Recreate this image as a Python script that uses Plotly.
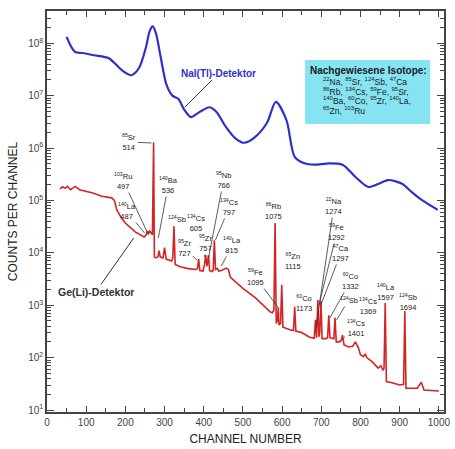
import plotly.graph_objects as go

# ---------------- data ----------------
nai_channel = [50, 62, 72, 90, 120, 157, 172, 195, 215, 235, 252, 262, 270, 278, 290, 305, 320, 335,
               350, 367, 390, 415, 432, 457, 480, 503, 530, 561, 584, 611, 632, 657, 682, 720, 754,
               787, 820, 845, 870, 905, 930, 956, 997]
nai_counts = [1.32e8, 8.5e7, 6.8e7, 6.5e7, 5.9e7, 5.2e7, 4.2e7, 2.9e7, 2.45e7, 3.4e7, 8.1e7, 1.7e8,
              2.1e8, 1.55e8, 5.5e7, 1.6e7, 1.0e7, 8.7e6, 5.4e6, 3.9e6, 4.9e6, 6.0e6, 4.9e6, 2.5e6,
              1.55e6, 1.26e6, 1.6e6, 3.0e6, 7.6e6, 3.4e6, 6.8e5, 5.1e5, 4.8e5, 5.1e5, 4.8e5, 2.8e5,
              1.8e5, 2.05e5, 2.45e5, 2.1e5, 1.45e5, 1.02e5, 6.6e4]

ge_channel = [33, 40, 46, 52, 60, 66, 72, 83, 100, 117, 140, 165, 172, 178, 190, 200, 225, 248, 253,
              256, 259, 262, 266, 269, 272, 274, 278, 283, 286, 289, 296, 300, 304, 318, 321, 324,
              327, 340, 360, 380, 384, 387, 390, 398, 402, 405, 408, 412, 415, 420, 424, 427, 430,
              435, 438, 445, 457, 463, 468, 500, 532, 557, 570, 575, 579, 582, 585, 588, 590, 592,
              596, 599, 602, 620, 629, 632, 635, 650, 670, 682, 685, 688, 691, 694, 696, 699, 702,
              712, 716, 719, 722, 732, 735, 738, 746, 751, 754, 758, 770, 780, 787, 795, 800, 808,
              812, 816, 830, 845, 852, 857, 860, 863, 866, 880, 900, 910, 913, 916, 945, 955, 962,
              1000]
ge_counts = [1.66e5, 1.82e5, 1.7e5, 1.86e5, 1.6e5, 1.75e5, 1.85e5, 1.6e5, 1.5e5, 1.38e5, 1.2e5,
             1.12e5, 1.0e5, 6.6e4, 4.6e4, 3.7e4, 2.5e4, 2.0e4, 2.2e4, 2.6e4, 2.3e4, 2.6e4, 2.4e4,
             2.2e4, 1.29e6, 8.3e3, 8.0e3, 8.5e3, 1.1e4, 8.3e3, 8.0e3, 1.26e4, 7.6e3, 7.0e3, 8.0e3,
             3.2e4, 6.0e3, 5.4e3, 5.0e3, 4.8e3, 5.0e3, 7.6e3, 4.6e3, 4.5e3, 6.0e3, 9.1e3, 5.5e3,
             9.0e3, 4.6e3, 4.4e3, 4.6e3, 1.74e4, 4.8e3, 5.0e3, 4.5e3, 4.6e3, 5.1e3, 4.8e3, 3.4e3,
             2.1e3, 1.38e3, 930, 740, 720, 800, 3.7e4, 450, 520, 890, 420, 450, 2.45e3, 380, 340,
             330, 930, 320, 300, 245, 235, 525, 240, 1.26e3, 250, 300, 1.2e3, 230, 230, 240, 645,
             240, 230, 575, 200, 200, 215, 270, 175, 160, 165, 200, 150, 112, 105, 118, 100, 83,
             63, 70, 58, 62, 1.1e3, 35, 33, 30, 31, 775, 26, 26, 34, 24, 23]

x_tick_vals = [0, 100, 200, 300, 400, 500, 600, 700, 800, 900, 1000]
y_tick_vals = [1e1, 1e2, 1e3, 1e4, 1e5, 1e6, 1e7, 1e8]
y_tick_text = ["10<sup>1</sup>", "10<sup>2</sup>", "10<sup>3</sup>", "10<sup>4</sup>",
               "10<sup>5</sup>", "10<sup>6</sup>", "10<sup>7</sup>", "10<sup>8</sup>"]

# peak labels: text, text centre (px), arrow tip (px) or None
peak_labels = [
    ("<sup>85</sup>Sr<br>514", (131, 142), (153, 143)),
    ("<sup>103</sup>Ru<br>497", (125, 181), (150, 235)),
    ("<sup>140</sup>La<br>487", (128, 211), (146, 233)),
    ("<sup>140</sup>Ba<br>536", (170, 185), (160, 238)),
    ("<sup>124</sup>Sb", (179, 219), None),
    ("<sup>134</sup>Cs<br>605", (198, 223), None),
    ("<sup>95</sup>Zr<br>727", (187, 248), (199, 260)),
    ("<sup>95</sup>Zr<br>757", (208, 243), (207, 257)),
    ("<sup>95</sup>Nb<br>766", (226, 180), (211, 258)),
    ("<sup>134</sup>Cs<br>797", (232, 207), (218, 240)),
    ("<sup>140</sup>La<br>815", (235, 245), (224, 266)),
    ("<sup>86</sup>Rb<br>1075", (277, 211), None),
    ("<sup>59</sup>Fe<br>1095", (259, 277), (282, 308)),
    ("<sup>65</sup>Zn<br>1115", (297, 261), None),
    ("<sup>60</sup>Co<br>1173", (308, 303), (300, 309)),
    ("<sup>22</sup>Na<br>1274", (338, 206), (320, 328)),
    ("<sup>59</sup>Fe<br>1292", (341, 232), (323, 305)),
    ("<sup>47</sup>Ca<br>1297", (345, 253), (325, 305)),
    ("<sup>60</sup>Co<br>1332", (355, 281), (334, 318)),
    ("<sup>124</sup>Sb", (353, 300), (341, 320)),
    ("<sup>134</sup>Cs<br>1369", (373, 306), None),
    ("<sup>134</sup>Cs<br>1401", (360, 328), (348, 338)),
    ("<sup>140</sup>La<br>1597", (391, 292), None),
    ("<sup>124</sup>Sb<br>1694", (413, 302), None),
]

box_title = "Nachgewiesene Isotope:"
box_lines = ["<sup>22</sup>Na, <sup>85</sup>Sr, <sup>124</sup>Sb, <sup>47</sup>Ca",
             "<sup>86</sup>Rb, <sup>134</sup>Cs, <sup>59</sup>Fe, <sup>95</sup>Sr,",
             "<sup>140</sup>Ba, <sup>60</sup>Co, <sup>95</sup>Zr, <sup>140</sup>La,",
             "<sup>65</sup>Zn, <sup>103</sup>Ru"]

# ---------------- layout helpers ----------------
W, H = 455, 449
L, R, T, B = 47, 5, 11, 37
XR = [0, 1013]
YR = [0.962, 8.615]
PW, PH = W - L - R, H - T - B
FONT = "Liberation Sans, Arial, sans-serif"
NARROW = "Liberation Sans Narrow, Arial Narrow, Liberation Sans, sans-serif"


def fx(px):
    return XR[0] + (px - L) / PW * (XR[1] - XR[0])


def fy(py):
    return YR[1] - (py - T) / PH * (YR[1] - YR[0])


def paper_x(px):
    return (px - L) / PW


def paper_y(py):
    return (H - B - py) / PH


fig = go.Figure()
fig.add_trace(go.Scatter(x=nai_channel, y=nai_counts, mode="lines",
                         line=dict(color="#2f2fcc", width=2.2, shape="spline", smoothing=0.8),
                         hoverinfo="skip", showlegend=False))
fig.add_trace(go.Scatter(x=ge_channel, y=ge_counts, mode="lines",
                         line=dict(color="#d42424", width=1.6),
                         hoverinfo="skip", showlegend=False))

annotations = []
for text, (cx, cy), tip in peak_labels:
    if tip is None:
        annotations.append(dict(x=paper_x(cx), y=paper_y(cy), xref="paper", yref="paper",
                                text=text, showarrow=False, xanchor="center", yanchor="middle",
                                font=dict(family=NARROW, size=7.5, color="#222")))
    else:
        tx, ty = tip
        annotations.append(dict(x=fx(tx), y=fy(ty), xref="x", yref="y", text=text,
                                showarrow=True, arrowhead=0, arrowwidth=0.8, arrowcolor="#333",
                                ax=cx - tx, ay=cy - ty, standoff=0,
                                font=dict(family=NARROW, size=7.5, color="#222")))

# detector labels
annotations.append(dict(x=fx(187), y=fy(107), xref="x", yref="y", text="<b>NaI(Tl)-Detektor</b>",
                        showarrow=True, arrowhead=0, arrowwidth=1, arrowcolor="#333",
                        ax=221 - 187, ay=73 - 107, standoff=0,
                        font=dict(family=FONT, size=10, color="#2f2fcc")))
annotations.append(dict(x=fx(135), y=fy(238), xref="x", yref="y", text="<b>Ge(Li)-Detektor</b>",
                        showarrow=True, arrowhead=0, arrowwidth=1, arrowcolor="#333",
                        ax=97 - 135, ay=292 - 238, standoff=0,
                        font=dict(family=FONT, size=10.5, color="#333")))

# isotope box
annotations.append(dict(x=paper_x(312), y=paper_y(70), xref="paper", yref="paper",
                        text="<b>" + box_title + "</b>", showarrow=False,
                        xanchor="left", yanchor="middle",
                        font=dict(family=FONT, size=10, color="#1a1a1a")))
for i, line in enumerate(box_lines):
    annotations.append(dict(x=paper_x(325), y=paper_y(81.5 + 9.6 * i), xref="paper", yref="paper",
                            text=line, showarrow=False, xanchor="left", yanchor="middle",
                            font=dict(family=FONT, size=8.5, color="#1a1a1a")))

shapes = [dict(type="rect", xref="paper", yref="paper",
               x0=paper_x(309), x1=paper_x(436), y0=paper_y(124), y1=paper_y(60),
               fillcolor="#86e3f1", line=dict(width=0), layer="below")]

fig.update_layout(
    width=W, height=H,
    margin=dict(l=L, r=R, t=T, b=B, pad=0),
    paper_bgcolor="white", plot_bgcolor="white",
    annotations=annotations, shapes=shapes,
    font=dict(family=FONT, color="#333"),
)
fig.update_xaxes(range=XR, tickmode="array", tickvals=x_tick_vals,
                 ticks="inside", ticklen=6, tickwidth=1.2, tickcolor="#444",
                 minor=dict(dtick=50, tick0=0, ticks="inside", ticklen=4, tickcolor="#444", showgrid=False),
                 showline=True, linecolor="#444", linewidth=1.5, mirror="ticks",
                 showgrid=False, zeroline=False,
                 tickfont=dict(family=FONT, size=10, color="#444"),
                 title=dict(text="CHANNEL NUMBER", standoff=8,
                            font=dict(family=FONT, size=12, color="#222")))
minor_y = [k * 10 ** n for n in range(0, 9) for k in range(2, 10)]
fig.update_yaxes(type="log", range=YR, tickmode="array", tickvals=y_tick_vals, ticktext=y_tick_text,
                 ticks="inside", ticklen=7, tickwidth=1.2, tickcolor="#444",
                 minor=dict(tickmode="array", tickvals=minor_y, ticks="inside", ticklen=4,
                            tickcolor="#444", showgrid=False),
                 showline=True, linecolor="#444", linewidth=1.5, mirror="ticks",
                 showgrid=False, zeroline=False,
                 tickfont=dict(family=FONT, size=10, color="#444"),
                 title=dict(text="COUNTS PER CHANNEL", standoff=8,
                            font=dict(family=FONT, size=12, color="#222")))

fig.write_html("out.html", config={"displayModeBar": False},
               post_script="document.body.style.margin='0px';")
